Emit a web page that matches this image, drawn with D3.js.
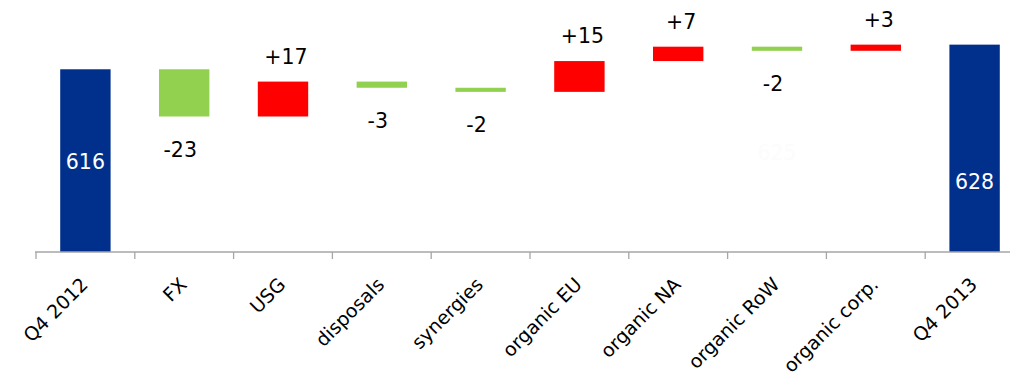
<!DOCTYPE html>
<html>
<head>
<meta charset="utf-8">
<script src="https://cdn.jsdelivr.net/npm/d3@7"></script>
<style>
  html, body { margin: 0; padding: 0; background: #fff; }
  svg { display: block; }
  text { font-family: "DejaVu Sans", Verdana, sans-serif; }
</style>
</head>
<body>
<svg id="chart" width="1010" height="382"></svg>
<script>
// Bridge from Q4 2012 to Q4 2013
const categories = ["Q4 2012", "FX", "USG", "disposals", "synergies",
                    "organic EU", "organic NA", "organic RoW", "organic corp.", "Q4 2013"];
const kinds   = ["total", "delta", "delta", "delta", "delta",
                 "delta", "delta", "delta", "delta", "total"];
const values  = [616, -23, 17, -3, -2, 15, 7, -2, 3, 628];
const valueLabels = ["616", "-23", "+17", "-3", "-2", "+15", "+7", "-2", "+3", "628"];

const colors = { total: "#00308c", up: "#ff0000", down: "#92d050" };

const svg = d3.select("#chart");
const baseY = 252;

const x = d3.scaleBand()
  .domain(categories)
  .range([36, 1024])
  .paddingInner(0.49)
  .paddingOuter(0.245);

const y = d3.scaleLinear()
  .domain([527, 640])
  .range([baseY, 20]);

// running totals give each step's floating start and end
let running = 0;
const steps = categories.map((c, i) => {
  const v = values[i];
  let start, end;
  if (kinds[i] === "total") { start = y.domain()[0]; end = v; running = v; }
  else { start = running; end = running + v; running = end; }
  return { c, i, v, start, end, kind: kinds[i], label: valueLabels[i] };
});

// bars
svg.append("g").selectAll("rect")
  .data(steps)
  .join("rect")
  .attr("x", d => x(d.c))
  .attr("width", x.bandwidth())
  .attr("y", d => y(Math.max(d.start, d.end)))
  .attr("height", d => Math.abs(y(d.start) - y(d.end)))
  .attr("fill", d => d.kind === "total" ? colors.total : (d.v >= 0 ? colors.up : colors.down));

// axis line and ticks at category boundaries
const axis = svg.append("g").attr("stroke", "#a6a6a6").attr("stroke-width", 1.3);
axis.append("line")
  .attr("x1", 35).attr("x2", 1010)
  .attr("y1", baseY).attr("y2", baseY);
const step = x.step();
const x0 = x.range()[0];
axis.selectAll("line.tick")
  .data(d3.range(categories.length))
  .join("line")
  .attr("class", "tick")
  .attr("x1", i => x0 + i * step).attr("x2", i => x0 + i * step)
  .attr("y1", baseY).attr("y2", baseY + 7);

// rotated category labels
svg.append("g").selectAll("text")
  .data(categories)
  .join("text")
  .attr("transform", c => `translate(${x(c) + x.bandwidth() / 2 - 1},${baseY + 29}) rotate(-45)`)
  .attr("text-anchor", "end")
  .attr("dy", "0.35em")
  .attr("font-size", 19)
  .attr("fill", "#000")
  .text(c => c);

// value labels
const totalLift = { "Q4 2012": 90, "Q4 2013": 70 };
svg.append("g").selectAll("text")
  .data(steps)
  .join("text")
  .attr("font-size", 20.5)
  .attr("text-anchor", "middle")
  .attr("dy", "0.36em")
  .attr("fill", d => d.kind === "total" ? "#fff" : "#000")
  .attr("x", d => x(d.c) + x.bandwidth() / 2 + (d.kind === "total" ? 0 : (d.v >= 0 ? 3 : -4)))
  .attr("y", d => {
    if (d.kind === "total") return baseY - totalLift[d.c];
    return d.v >= 0 ? y(d.end) - 25 : y(d.end) + 33;
  })
  .text(d => d.label);

// faint running-total note under organic RoW
svg.append("text")
  .attr("font-size", 20.5)
  .attr("text-anchor", "middle")
  .attr("dy", "0.36em")
  .attr("fill", "#fcfcfc")
  .attr("x", x("organic RoW") + x.bandwidth() / 2)
  .attr("y", 153)
  .text(steps[7].end);
</script>
</body>
</html>
